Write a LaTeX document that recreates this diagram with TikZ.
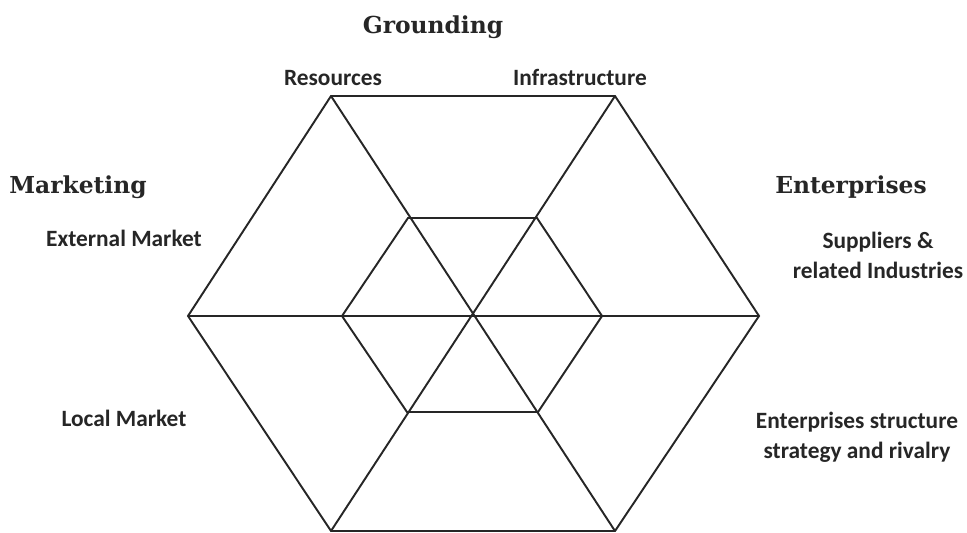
\documentclass[tikz,border=0pt]{standalone}
\usepackage{fontspec}
\setmainfont{Carlito}
\newfontfamily\headfont{DejaVu Serif}
\usepackage{tikz}
\usetikzlibrary{positioning,calc}

\begin{document}
\begin{tikzpicture}[x=0.02cm,y=-0.02cm,
    hexline/.style={draw=black!85,line width=1.1pt,line join=miter},
    headlabel/.style={font=\headfont\bfseries\fontsize{13.3}{15}\selectfont,text=black!85,inner sep=0pt,anchor=base},
    itemlabel/.style={font=\bfseries\fontsize{13.3}{17.5}\selectfont,text=black!85,inner sep=0pt,anchor=base,align=center}]
  \useasboundingbox (0,0) rectangle (967,533);
  % outer and inner hexagon corners
  \foreach \i/\x/\y in {1/759/316,2/615/96,3/331/96,4/188/316,5/331/531,6/615/531}
    \coordinate (o\i) at (\x,\y);
  \foreach \i/\x/\y in {1/602/316,2/537/218,3/408/218,4/342/316,5/407/412,6/538/412}
    \coordinate (i\i) at (\x,\y);
  \draw[hexline] (o1) -- (o2) -- (o3) -- (o4) -- (o5) -- (o6) -- cycle;
  \draw[hexline] (i1) -- (i2) -- (i3) -- (i4) -- (i5) -- (i6) -- cycle;
  \draw[hexline] (o1) -- (o4) (o2) -- (o5) (o3) -- (o6);
  % headings
  \node[headlabel] (grounding) at (433,34) {Grounding};
  \node[headlabel] (marketing) at (78,194) {Marketing};
  \node[headlabel] (enterprises) at (851,194) {Enterprises};
  % factors (base = last line)
  \node[itemlabel] (resources) at (333,86) {Resources};
  \node[itemlabel] (infra) at (580,86) {Infrastructure};
  \node[itemlabel] (external) at (124,247) {External Market};
  \node[itemlabel] (local) at (124,427) {Local Market};
  \node[itemlabel] (suppliers) at (878,279) {Suppliers \&\\related Industries};
  \node[itemlabel] (structure) at (857,459) {Enterprises structure\\strategy and rivalry};
\end{tikzpicture}
\end{document}
